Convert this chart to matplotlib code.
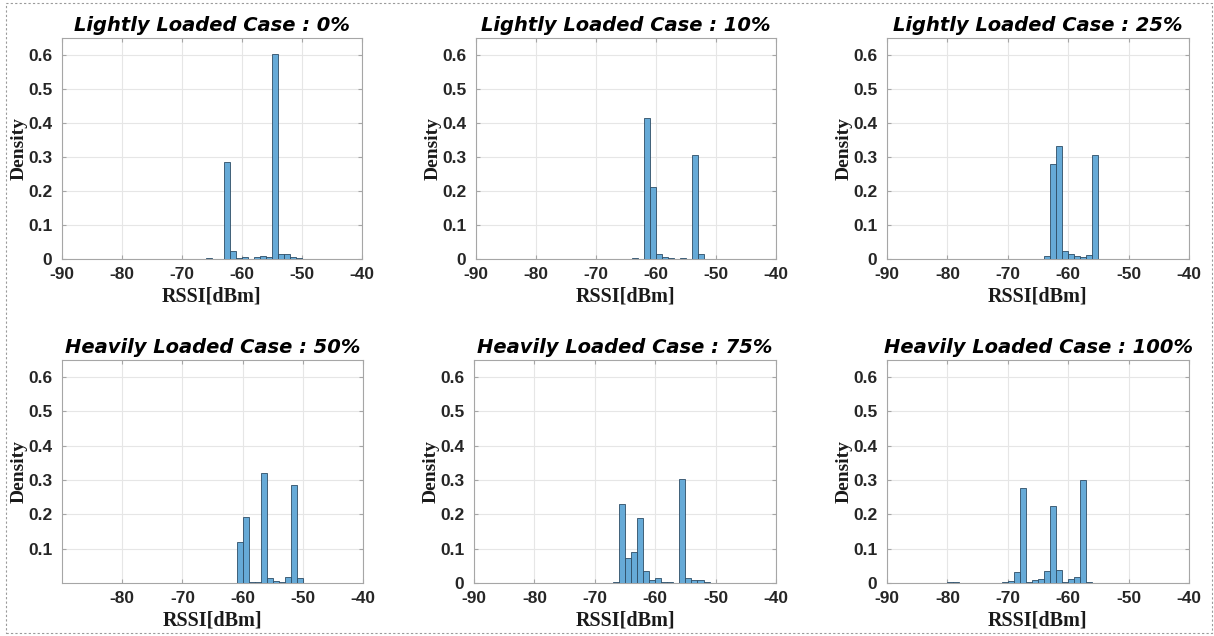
import matplotlib
matplotlib.use("Agg")
import matplotlib.pyplot as plt
import numpy as np
from matplotlib.patches import Rectangle

plt.rcParams["axes.unicode_minus"] = False

titles = ["Lightly Loaded Case : 0%", "Lightly Loaded Case : 10%",
          "Lightly Loaded Case : 25%", "Heavily Loaded Case : 50%",
          "Heavily Loaded Case : 75%", "Heavily Loaded Case : 100%"]

# left edge of first 1 dBm bin, then densities per bin
start_0 = -77
dens_0 = [0.0005, 0.0003, 0.0005, 0.0005, 0.0005, 0.0005, 0.0003, 0.0005, 0.0005,
          0.0005, 0.0008, 0.004, 0.001, 0.001, 0.285, 0.025, 0.002, 0.006, 0.001,
          0.006, 0.008, 0.007, 0.603, 0.014, 0.014, 0.005, 0.002]
start_10 = -65
dens_10 = [0.001, 0.002, 0.001, 0.415, 0.213, 0.016, 0.006, 0.004, 0.001, 0.003,
           0.0, 0.305, 0.016]
start_25 = -64
dens_25 = [0.008, 0.28, 0.332, 0.023, 0.015, 0.008, 0.005, 0.013, 0.305]
start_50 = -61
dens_50 = [0.12, 0.193, 0.004, 0.004, 0.32, 0.015, 0.007, 0.002, 0.018, 0.287, 0.015]
start_75 = -72
dens_75 = [0.0005, 0.0005, 0.001, 0.0005, 0.001, 0.003, 0.23, 0.074, 0.089, 0.19,
           0.036, 0.01, 0.016, 0.004, 0.002, 0.0, 0.302, 0.014, 0.01, 0.008, 0.002]
start_100 = -82
dens_100 = [0.0005, 0.001, 0.002, 0.002, 0.0005, 0.0003, 0.0003, 0.0003, 0.0003,
            0.0005, 0.001, 0.004, 0.007, 0.033, 0.278, 0.003, 0.008, 0.012, 0.036,
            0.225, 0.038, 0.002, 0.011, 0.018, 0.3, 0.002]

starts = [start_0, start_10, start_25, start_50, start_75, start_100]
dens = [dens_0, dens_10, dens_25, dens_50, dens_75, dens_100]

W, H = 1214, 636
fig = plt.figure(figsize=(W / 100, H / 100), dpi=100)

# axes boxes in pixels: left, top, right, bottom
boxes = [(62, 38, 362, 259), (476, 38, 776, 259), (887, 38, 1189, 259),
         (62, 360, 363, 583), (474, 360, 776, 583), (887, 360, 1189, 583)]

face = "#66aad7"
edge = "#2e4d66"
tick_col = "#262626"

for i in range(6):
    l, t, r, b = boxes[i]
    ax = fig.add_axes([l / W, 1 - b / H, (r - l) / W, (b - t) / H])
    d = np.array(dens[i])
    x = starts[i] + np.arange(len(d))
    ax.bar(x, d, width=1.0, align="edge", color=face, edgecolor=edge, linewidth=0.6, zorder=3)
    ax.set_xlim(-90, -40)
    ax.set_ylim(0, 0.65)
    if i == 3:
        ax.set_xticks([-80, -70, -60, -50, -40])
        ax.set_yticks([0.1, 0.2, 0.3, 0.4, 0.5, 0.6])
    else:
        ax.set_xticks([-90, -80, -70, -60, -50, -40])
        ax.set_yticks([0, 0.1, 0.2, 0.3, 0.4, 0.5, 0.6])
    ax.set_yticklabels([("%g" % v) for v in ax.get_yticks()])
    ax.grid(True, color="#e6e6e6", linewidth=0.8, zorder=0)
    for s in ax.spines.values():
        s.set_color("#a6a6a6")
        s.set_linewidth(0.8)
    ax.tick_params(direction="in", length=3, color="#a6a6a6", top=True, right=True,
                   labelcolor=tick_col, labelsize=12.5)
    ax.tick_params(axis="x", pad=6)
    ax.tick_params(axis="y", pad=7)
    for lab in ax.get_xticklabels() + ax.get_yticklabels():
        lab.set_fontweight("bold")
        lab.set_family("Liberation Sans")
    ax.set_xlabel("RSSI[dBm]", fontsize=14.5, fontweight="bold", family="Liberation Serif",
                  color="#1a1a1a", labelpad=3)
    ax.set_ylabel("Density", fontsize=14, fontweight="bold", family="Liberation Serif",
                  color="#1a1a1a", labelpad=0)
    ax.set_title(titles[i], fontsize=14, fontweight="bold", style="italic",
                 family="DejaVu Sans", pad=5)

fig.patches.append(Rectangle((6 / W, 3 / H), 1206 / W, 630 / H, transform=fig.transFigure,
                             fill=False, edgecolor="#9a9a9a", linestyle=(0, (2, 2)),
                             linewidth=0.8))

fig.savefig("out.png", dpi=100)
